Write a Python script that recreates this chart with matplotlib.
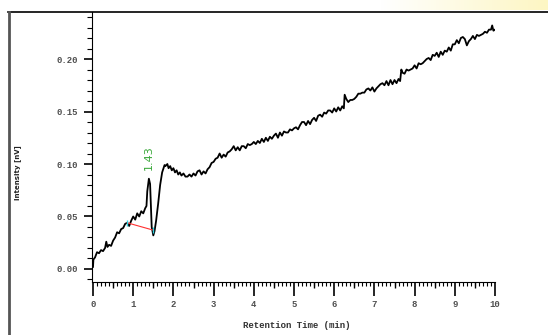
import numpy as np
import matplotlib
matplotlib.use('Agg')
import matplotlib.pyplot as plt
from matplotlib.ticker import MultipleLocator, FormatStrFormatter
from matplotlib.lines import Line2D
from matplotlib.colors import LinearSegmentedColormap

# Chromatogram trace (time in min, intensity in nV)
tiempo = [0.00, 0.01, 0.05, 0.10, 0.15, 0.20, 0.25, 0.30, 0.33, 0.36, 0.40, 0.45, 0.50, 0.55,
          0.60, 0.65, 0.70, 0.75, 0.80, 0.85, 0.90, 0.95, 1.00, 1.05, 1.10, 1.15, 1.20, 1.25,
          1.30, 1.33, 1.35, 1.39, 1.42, 1.44, 1.46, 1.50, 1.53, 1.57, 1.62, 1.67, 1.72, 1.78,
          1.80, 1.85, 1.88, 1.92, 1.96, 2.00, 2.04, 2.08, 2.12, 2.16, 2.20, 2.25, 2.30, 2.35,
          2.40, 2.45, 2.50, 2.55, 2.60, 2.65, 2.70, 2.75, 2.80, 2.85, 2.90, 2.95, 3.00, 3.05,
          3.10, 3.15, 3.20, 3.25, 3.30, 3.35, 3.40, 3.45, 3.50, 3.55, 3.60, 3.65, 3.70, 3.75,
          3.80, 3.85, 3.90, 3.95, 4.00, 4.05, 4.10, 4.15, 4.20, 4.25, 4.30, 4.35, 4.40, 4.45,
          4.50, 4.55, 4.60, 4.65, 4.70, 4.75, 4.80, 4.85, 4.90, 4.95, 5.00, 5.05, 5.10, 5.15,
          5.20, 5.25, 5.30, 5.35, 5.40, 5.45, 5.50, 5.55, 5.60, 5.65, 5.70, 5.75, 5.80, 5.85,
          5.90, 5.95, 6.00, 6.05, 6.10, 6.15, 6.20, 6.24, 6.26, 6.30, 6.35, 6.40, 6.45, 6.50,
          6.55, 6.60, 6.65, 6.70, 6.75, 6.80, 6.85, 6.90, 6.95, 7.00, 7.05, 7.10, 7.15, 7.20,
          7.25, 7.30, 7.35, 7.40, 7.45, 7.50, 7.55, 7.60, 7.64, 7.67, 7.70, 7.75, 7.80, 7.85,
          7.90, 7.95, 8.00, 8.05, 8.10, 8.15, 8.20, 8.25, 8.30, 8.35, 8.40, 8.45, 8.50, 8.55,
          8.60, 8.65, 8.70, 8.75, 8.80, 8.85, 8.90, 8.95, 9.00, 9.05, 9.10, 9.15, 9.20, 9.25,
          9.30, 9.35, 9.40, 9.45, 9.50, 9.55, 9.60, 9.65, 9.70, 9.75, 9.80, 9.85, 9.90, 9.93,
          9.96, 10.00]
intensidad = [0.002, 0.009, 0.011, 0.016, 0.015, 0.018, 0.017, 0.020, 0.026, 0.021, 0.023, 0.022, 0.027, 0.030,
              0.035, 0.034, 0.038, 0.039, 0.043, 0.044, 0.041, 0.046, 0.050, 0.047, 0.053, 0.050, 0.055, 0.053,
              0.058, 0.060, 0.074, 0.086, 0.081, 0.060, 0.040, 0.032, 0.036, 0.046, 0.062, 0.080, 0.092, 0.099,
              0.098, 0.100, 0.096, 0.098, 0.094, 0.096, 0.092, 0.094, 0.090, 0.092, 0.089, 0.091, 0.088, 0.088,
              0.090, 0.088, 0.091, 0.089, 0.093, 0.094, 0.090, 0.093, 0.091, 0.095, 0.097, 0.101, 0.102, 0.105,
              0.106, 0.110, 0.106, 0.109, 0.107, 0.111, 0.112, 0.114, 0.117, 0.113, 0.116, 0.113, 0.117, 0.117,
              0.115, 0.119, 0.118, 0.119, 0.121, 0.119, 0.122, 0.120, 0.124, 0.121, 0.125, 0.122, 0.126, 0.124,
              0.127, 0.129, 0.125, 0.130, 0.127, 0.131, 0.130, 0.130, 0.133, 0.132, 0.134, 0.135, 0.133, 0.137,
              0.140, 0.140, 0.137, 0.141, 0.138, 0.142, 0.144, 0.141, 0.146, 0.147, 0.145, 0.149, 0.148, 0.151,
              0.151, 0.149, 0.153, 0.150, 0.154, 0.151, 0.155, 0.153, 0.166, 0.162, 0.159, 0.161, 0.161, 0.162,
              0.164, 0.167, 0.167, 0.168, 0.168, 0.171, 0.172, 0.170, 0.173, 0.169, 0.172, 0.174, 0.176, 0.177,
              0.175, 0.179, 0.175, 0.180, 0.176, 0.180, 0.177, 0.181, 0.179, 0.190, 0.187, 0.186, 0.190, 0.189,
              0.190, 0.191, 0.194, 0.191, 0.196, 0.195, 0.196, 0.198, 0.200, 0.201, 0.199, 0.204, 0.203, 0.206,
              0.202, 0.207, 0.204, 0.208, 0.207, 0.211, 0.208, 0.214, 0.214, 0.218, 0.215, 0.220, 0.221, 0.219,
              0.213, 0.217, 0.219, 0.222, 0.219, 0.223, 0.222, 0.223, 0.224, 0.226, 0.225, 0.228, 0.228, 0.232,
              0.227, 0.228]

# Baseline under the peak and its label
base_t = [0.85, 1.50]
base_i = [0.044, 0.037]
pico_t = 1.43
pico_label = '1.43'

W, H = 548, 335
fig = plt.figure(figsize=(W / 100, H / 100), dpi=100)

# Window frame
fig.add_artist(Line2D([8 / W, 1], [1 - 11.5 / H] * 2, color='black', lw=1.2))
fig.add_artist(Line2D([8.5 / W] * 2, [0, 1 - 11.5 / H], color='#555555', lw=2))
grad = fig.add_axes([380 / W, 1 - 10.5 / H, 168 / W, 10.5 / H])
g = np.linspace(0, 1, 100)[None, :]
grad.imshow(g, aspect='auto', cmap=LinearSegmentedColormap.from_list('y', ['#ffffff', '#fdf6c3']))
grad.axis('off')

ax = fig.add_axes([92 / W, 1 - 282 / H, 403 / W, 270 / H])
ax.plot(tiempo, intensidad, color='black', lw=1.3)
ax.plot(base_t, base_i, color='#ff3030', lw=0.8)
ax.plot(base_t, base_i, ls='none', marker='|', color='#30d0e0', ms=4, mew=1)
ax.text(pico_t - 0.03, 0.106, pico_label, rotation=90, color='#3aa83a', fontsize=8,
        ha='center', va='center')

ax.set_xlim(-0.025, 10)
ax.set_ylim(-0.0124, 0.2448)
for s in ['top', 'right']:
    ax.spines[s].set_visible(False)

ax.xaxis.set_major_locator(MultipleLocator(1))
ax.xaxis.set_minor_locator(MultipleLocator(0.1))
ax.yaxis.set_major_locator(MultipleLocator(0.05))
ax.yaxis.set_minor_locator(MultipleLocator(0.01))
ax.yaxis.set_major_formatter(FormatStrFormatter('%.2f'))
ax.tick_params(axis='x', which='major', length=10, width=1.2, pad=3)
ax.tick_params(axis='x', which='minor', length=3, width=0.8)
ax.tick_params(axis='y', which='major', length=6, width=1.2, pad=4)
ax.tick_params(axis='y', which='minor', length=3.5, width=0.8)
for lab in ax.get_xticklabels() + ax.get_yticklabels():
    lab.set_family('Liberation Mono')
    lab.set_fontsize(6.5)
    lab.set_color('#505050')
    lab.set_fontweight('bold')

# half-minute ticks, a bit longer than the minor ones
medios = [0.5, 1.5, 2.5, 3.5, 4.5, 5.5, 6.5, 7.5, 8.5, 9.5]
ax.plot(medios, [0] * len(medios), transform=ax.get_xaxis_transform(), ls='none',
        marker=3, ms=4.5, mew=1, color='black', clip_on=False)

fig.text(297 / W, 1 - 326 / H, 'Retention Time (min)', family='Liberation Mono', fontsize=6.5,
         color='#333333', ha='center', va='center', fontweight='bold')
fig.text(18 / W, 1 - 173 / H, 'Intensity [nV]', family='DejaVu Sans Condensed',
         fontsize=5, rotation=90, color='#222222', ha='center', va='center', fontweight='bold')

fig.savefig('out.png', dpi=100)
